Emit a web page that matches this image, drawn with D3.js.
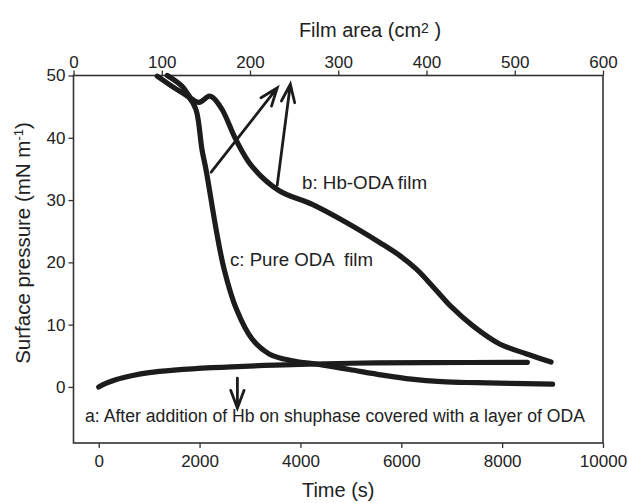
<!DOCTYPE html>
<html>
<head>
<meta charset="utf-8">
<script src="https://cdn.jsdelivr.net/npm/d3@7"></script>
<style>
  body { margin: 0; background: #fff; }
  text { font-family: "Liberation Sans", Arial, Helvetica, sans-serif; fill: #222; }
</style>
</head>
<body>
<div id="chart-area"></div>
<script>
// curve a: Hb added under ODA layer (time s, pressure mN/m)
var aTime = [0, 150, 350, 650, 1000, 1500, 2250, 3500, 5000, 6500, 8500];
var aPressure = [0, 0.6, 1.2, 1.8, 2.3, 2.7, 3.1, 3.5, 3.8, 3.9, 3.95];

// curve b: Hb-ODA film
var bTime = [1360, 1650, 1850, 1990, 2190, 2260, 2450, 2720, 3040, 3580, 4235, 4910, 5570, 5950, 6300, 6650, 7000, 7420, 7950, 8490, 8970];
var bPressure = [50, 48.3, 46.2, 45.7, 46.7, 46.5, 44.5, 39.7, 35.4, 31.5, 29.3, 26.4, 23.2, 21.2, 18.9, 15.9, 12.8, 9.8, 6.9, 5.3, 4.0];

// curve c: pure ODA film
var cTime = [1160, 1500, 1800, 1930, 2050, 2130, 2330, 2490, 2730, 3040, 3380, 3840, 4370, 4970, 5630, 6200, 6800, 7500, 9000];
var cPressure = [49.9, 48.0, 46.4, 44.5, 38.0, 34.8, 25.2, 18.8, 12.5, 7.7, 5.3, 4.2, 3.6, 2.8, 1.9, 1.25, 0.85, 0.68, 0.45];

var timeTicks = [0, 2000, 4000, 6000, 8000, 10000];
var areaTicks = [0, 100, 200, 300, 400, 500, 600];
var pressureTicks = [0, 10, 20, 30, 40, 50];

// annotation arrows [fromTime, fromP, toTime, toP]
var arrows = [
  [2230, 34.5, 3540, 48.0],
  [3540, 32.4, 3800, 48.6],
  [2750, 1.4, 2750, -3.4]
];

var width = 628, height = 503;
var box = {left: 73.5, right: 603, top: 75.5, bottom: 443};

var svg = d3.select("#chart-area").append("svg")
  .attr("width", width)
  .attr("height", height);

var x = d3.scaleLinear().domain([-500, 10000]).range([box.left, box.right]);
var xTop = d3.scaleLinear().domain([0, 600]).range([box.left, box.right]);
var y = d3.scaleLinear().domain([-9, 50]).range([box.bottom, box.top]);

var bottomAxis = d3.axisBottom(x).tickValues(timeTicks).tickSize(5).tickPadding(7).tickFormat(d3.format("d"));
var topAxis = d3.axisTop(xTop).tickValues(areaTicks).tickSize(5).tickPadding(3);
var leftAxis = d3.axisLeft(y).tickValues(pressureTicks).tickSize(5).tickPadding(3);

svg.append("g")
  .attr("transform", "translate(0," + box.bottom + ")")
  .call(bottomAxis);
svg.append("g")
  .attr("transform", "translate(0," + box.top + ")")
  .call(topAxis);
svg.append("g")
  .attr("transform", "translate(" + box.left + ",0)")
  .call(leftAxis);

svg.selectAll(".domain").remove();
svg.selectAll(".tick line").attr("stroke", "#333").attr("stroke-width", 1.3);
svg.selectAll(".tick text")
  .attr("font-size", "17px")
  .attr("fill", "#222")
  .style("font-family", "'Liberation Sans', Arial, sans-serif");

// frame
svg.append("rect")
  .attr("x", box.left)
  .attr("y", box.top)
  .attr("width", box.right - box.left)
  .attr("height", box.bottom - box.top)
  .attr("fill", "none")
  .attr("stroke", "#333")
  .attr("stroke-width", 1.6);

// axis titles
svg.append("text")
  .attr("x", (box.left + box.right) / 2)
  .attr("y", 497)
  .attr("font-size", "20px")
  .attr("text-anchor", "middle")
  .text("Time (s)");

var topTitle = svg.append("text")
  .attr("x", 370)
  .attr("y", 37)
  .attr("font-size", "20px")
  .attr("text-anchor", "middle");
topTitle.append("tspan").text("Film area (cm");
topTitle.append("tspan").attr("font-size", "14px").attr("dy", -4).text("2");
topTitle.append("tspan").attr("dy", 4).text(" )");

var yTitle = svg.append("text")
  .attr("transform", "translate(30," + 243 + ") rotate(-90)")
  .attr("font-size", "20.5px")
  .attr("text-anchor", "middle");
yTitle.append("tspan").text("Surface pressure (mN m");
yTitle.append("tspan").attr("font-size", "13px").attr("dy", -7).text("-1");
yTitle.append("tspan").attr("dy", 7).text(")");

// curves
var line = d3.line()
  .x(function(d) { return x(d[0]); })
  .y(function(d) { return y(d[1]); })
  .curve(d3.curveCatmullRom.alpha(0.5));

var series = [
  d3.zip(aTime, aPressure),
  d3.zip(cTime, cPressure),
  d3.zip(bTime, bPressure)
];

svg.selectAll("path.curve")
  .data(series)
  .enter().append("path")
  .attr("class", "curve")
  .attr("d", line)
  .attr("fill", "none")
  .attr("stroke", "#1c1c1c")
  .attr("stroke-width", 5.2)
  .attr("stroke-linecap", "round")
  .attr("stroke-linejoin", "round");

// arrows with open heads
arrows.forEach(function(a) {
  var x1 = x(a[0]), y1 = y(a[1]), x2 = x(a[2]), y2 = y(a[3]);
  var ang = Math.atan2(y2 - y1, x2 - x1);
  var len = 19, spread = 0.36;
  var h1 = [x2 - len * Math.cos(ang - spread), y2 - len * Math.sin(ang - spread)];
  var h2 = [x2 - len * Math.cos(ang + spread), y2 - len * Math.sin(ang + spread)];
  svg.append("path")
    .attr("d", "M" + x1 + "," + y1 + "L" + x2 + "," + y2 +
               "M" + h1[0] + "," + h1[1] + "L" + x2 + "," + y2 + "L" + h2[0] + "," + h2[1])
    .attr("fill", "none")
    .attr("stroke", "#1c1c1c")
    .attr("stroke-width", 2.8)
    .attr("stroke-linecap", "round")
    .attr("stroke-linejoin", "miter");
});

// curve labels
svg.append("text")
  .attr("x", 302)
  .attr("y", 189)
  .attr("font-size", "18px")
  .attr("textLength", 125)
  .attr("lengthAdjust", "spacingAndGlyphs")
  .text("b: Hb-ODA film");

svg.append("text")
  .attr("x", 230)
  .attr("y", 266)
  .attr("font-size", "18px")
  .attr("textLength", 143)
  .attr("lengthAdjust", "spacingAndGlyphs")
  .style("white-space", "pre")
  .text("c: Pure ODA  film");

svg.append("text")
  .attr("x", 85)
  .attr("y", 422)
  .attr("font-size", "18px")
  .attr("textLength", 500)
  .attr("lengthAdjust", "spacingAndGlyphs")
  .text("a: After addition of Hb on shuphase covered with a layer of ODA");
</script>
</body>
</html>
